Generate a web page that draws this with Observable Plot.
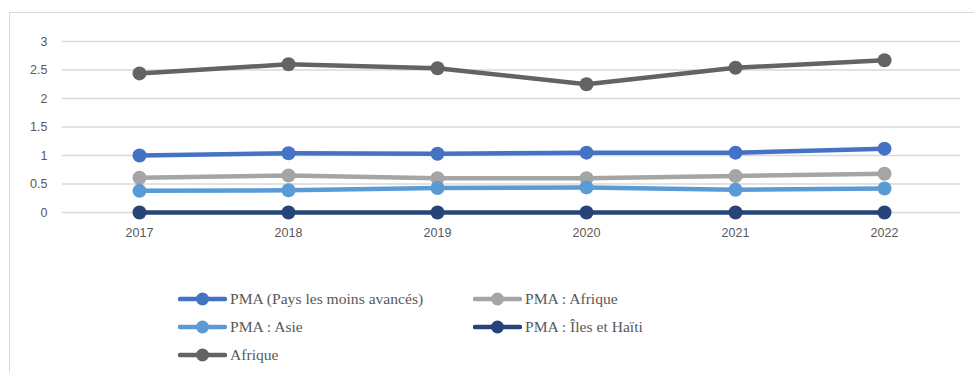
<!DOCTYPE html>
<html>
<head>
<meta charset="utf-8">
<script src="https://cdn.jsdelivr.net/npm/d3@7"></script>
<script src="https://cdn.jsdelivr.net/npm/@observablehq/plot@0.6"></script>
<style>
  html, body { margin: 0; padding: 0; background: #fff; width: 974px; height: 372px; overflow: hidden; }
  #frame { position: absolute; left: 9px; top: 12px; width: 975px; height: 372px; border: 1px solid #d9d9d9; box-sizing: border-box; }
  #chart { position: absolute; left: 0; top: 0; }
  .leg { position: absolute; display: flex; align-items: center; font-family: 'Liberation Serif', 'Times New Roman', serif; font-size: 15.6px; color: #595959; white-space: nowrap; }
  .leg svg { margin-right: 3px; }
</style>
</head>
<body>
<div id="frame">
  <div id="chart"></div>
  <div id="legend"></div>
</div>
<script>
const years = ["2017", "2018", "2019", "2020", "2021", "2022"];
const seriesNames = ["PMA (Pays les moins avancés)", "PMA : Afrique", "PMA : Asie", "PMA : Îles et Haïti", "Afrique"];
const seriesColors = ["#4472C4", "#A5A5A5", "#5B9BD5", "#264478", "#636363"];
const pma = [1.00, 1.04, 1.03, 1.05, 1.05, 1.12];
const pmaAfrique = [0.61, 0.65, 0.60, 0.60, 0.64, 0.68];
const pmaAsie = [0.38, 0.39, 0.43, 0.44, 0.40, 0.42];
const pmaIles = [0, 0, 0, 0, 0, 0];
const afrique = [2.44, 2.60, 2.53, 2.25, 2.54, 2.67];
const yTicks = [0, 0.5, 1, 1.5, 2, 2.5, 3];

const seriesValues = [pma, pmaAfrique, pmaAsie, pmaIles, afrique];
const data = [];
seriesNames.forEach((s, i) => years.forEach((y, j) => data.push({series: s, year: y, value: seriesValues[i][j]})));

const chart = Plot.plot({
  width: 965,
  height: 230,
  marginTop: 28,
  marginBottom: 31,
  marginLeft: 52,
  marginRight: 15,
  style: { fontFamily: "'Liberation Sans', Arial, sans-serif", fontSize: "12.5px", color: "#595959", background: "#fff" },
  x: { type: "point", domain: years, padding: 0.5, label: null },
  y: { domain: [0, 3], ticks: yTicks, label: null },
  color: { domain: seriesNames, range: seriesColors },
  marks: [
    Plot.ruleY(yTicks, { stroke: "#d9d9d9", strokeWidth: 1.5 }),
    Plot.axisY({ ticks: yTicks, tickSize: 0, tickPadding: 15, label: null, fill: "#595959", tickFormat: d3.format("") }),
    Plot.axisX({ tickSize: 0, tickPadding: 16, label: null, fill: "#595959" }),
    Plot.line(data, { x: "year", y: "value", z: "series", stroke: "series", strokeWidth: 4.5, curve: "linear" }),
    Plot.dot(data, { x: "year", y: "value", fill: "series", r: 7, stroke: null })
  ]
});
document.getElementById("chart").appendChild(chart);

// Legend
const legendPos = [
  [168, 277], [463, 277],
  [168, 305], [463, 305],
  [168, 333]
];
const legend = document.getElementById("legend");
seriesNames.forEach((s, i) => {
  const div = document.createElement("div");
  div.className = "leg";
  div.style.left = legendPos[i][0] + "px";
  div.style.top = legendPos[i][1] + "px";
  div.innerHTML = `<svg width="49" height="16"><line x1="2" x2="47" y1="8" y2="8" stroke="${seriesColors[i]}" stroke-width="4.5" stroke-linecap="round"/><circle cx="24.5" cy="8" r="6.5" fill="${seriesColors[i]}"/></svg><span>${s}</span>`;
  legend.appendChild(div);
});
</script>
</body>
</html>
